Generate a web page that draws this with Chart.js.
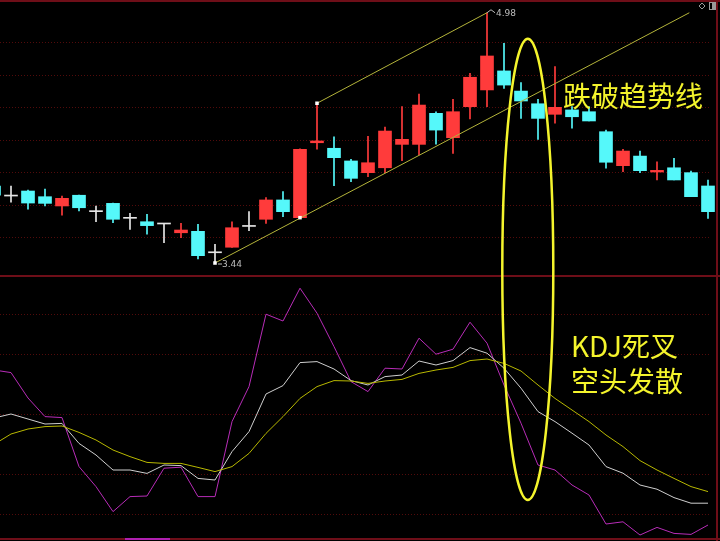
<!DOCTYPE html>
<html>
<head>
<meta charset="utf-8">
<script src="https://cdn.jsdelivr.net/npm/chart.js@4.4.1/dist/chart.umd.min.js"></script>
<style>
  html, body { margin: 0; padding: 0; background: #000; }
  #wrap { position: relative; width: 720px; height: 541px; }
</style>
</head>
<body>
<div id="wrap"><canvas id="kline" width="720" height="541"></canvas></div>
<script>
// K 线数据（第一根只露出半截）
const opens  = [3.914,3.852,3.883,3.848,3.791,3.857,3.756,3.807,3.715,3.694,3.680,3.626,3.635,3.503,3.537,3.665,3.709,3.828,3.719,4.180,4.146,4.068,3.996,4.026,4.170,4.170,4.361,4.211,4.402,4.505,4.622,4.498,4.420,4.355,4.382,4.371,4.248,4.039,4.098,4.000,4.026,3.996,3.914];
const highs  = [3.932,3.914,3.889,3.895,3.852,3.858,3.791,3.809,3.746,3.740,3.680,3.684,3.678,3.555,3.694,3.756,3.842,3.879,4.142,4.423,4.217,4.078,4.220,4.277,4.402,4.480,4.371,4.447,4.607,4.980,4.792,4.550,4.447,4.648,4.402,4.402,4.258,4.140,4.129,4.063,4.084,4.006,3.951];
const lows   = [3.840,3.815,3.772,3.791,3.735,3.760,3.694,3.688,3.647,3.618,3.565,3.596,3.465,3.440,3.536,3.639,3.684,3.725,3.719,4.140,3.916,3.940,3.971,3.996,4.070,4.105,4.172,4.115,4.326,4.402,4.515,4.330,4.201,4.300,4.269,4.314,4.023,4.002,3.996,3.951,3.951,3.848,3.715];
const closes = [3.858,3.852,3.809,3.807,3.838,3.780,3.756,3.709,3.715,3.670,3.680,3.643,3.485,3.503,3.657,3.665,3.828,3.756,4.140,4.191,4.088,3.961,4.057,4.252,4.201,4.412,4.258,4.371,4.583,4.714,4.535,4.437,4.330,4.398,4.340,4.314,4.060,4.129,4.008,4.010,3.951,3.848,3.756];

// KDJ 指标
const kValues = [48,50,47.5,45,45.3,35.3,29.5,22,22,20.3,24.5,24.2,17.8,17,31.2,41.2,60,64.2,75.7,76.2,72.5,66.7,64.5,68.7,69.5,76.5,74.5,76.7,83.2,80.4,72.9,62.9,51.2,46.2,40.4,34.5,23.7,20.4,14.5,12.4,8.2,5.4,5.4];
const dValues = [34.8,40,42.5,43.7,44,40.8,37,32,28.7,25.8,25.3,25.3,23.3,21.2,23.7,30.3,40.3,48.7,57.8,63.7,66.7,66.5,65.3,66.5,67.3,70.3,72,73.3,76.7,77.5,75.3,71.5,64.5,57.8,52,46.2,39.5,33.7,26.7,22,17.8,13.7,11.2];
const jValues = [72,70.7,58,48.7,48.2,23.7,13.7,1.2,8.7,9,22.9,23.4,8.7,8.7,46.2,63.7,99.9,96.5,112.9,100.4,83.7,66.2,61.2,72.9,72.5,87.9,79.9,82.4,95.9,85.4,64.5,45.4,24.5,22,14.5,9.5,-5,-3.9,-10.5,-6.7,-9.7,-10.2,-5.5];

// 网格刻度
const priceLevels = [3.6, 3.8, 4.0, 4.2, 4.4, 4.6, 4.8];
const kdjLevels = [0, 20, 50, 80, 100];

// 趋势线（用 K 线序号和价格表示）
const lowerTrend = [{ x: 12, y: 3.44 }, { x: 39.9, y: 4.98 }];
const upperTrend = [{ x: 18, y: 4.423 }, { x: 28, y: 4.98 }];
const markPoints = [{ x: 12, y: 3.44 }, { x: 17, y: 3.719 }, { x: 18, y: 4.423 }];

const RED = '#ff3b3b';
const CYAN = '#55f8fa';
const WHITE = '#e6e6e6';
const YELLOW = '#f4f42c';

const firstIndex = -1;
const xs = opens.map((_, i) => i + firstIndex);

const candleColor = (i) => {
    if (closes[i] > opens[i]) return RED;
    if (closes[i] < opens[i]) return CYAN;
    return WHITE;
};

const bodyData = xs.map((x, i) => ({ x: x, y: [opens[i], closes[i]] }));
const wickData = xs.map((x, i) => ({ x: x, y: [lows[i], highs[i]] }));
const toLine = (arr) => xs.map((x, i) => ({ x: x, y: arr[i] }));

// 背景网格和边框
const framePlugin = {
    id: 'frame',
    beforeDatasetsDraw(chart) {
        const { ctx, scales } = chart;
        const w = chart.width;
        ctx.save();
        ctx.lineWidth = 1;
        ctx.strokeStyle = 'rgba(150,20,20,0.55)';
        ctx.setLineDash([1, 2]);
        priceLevels.forEach(p => {
            const y = Math.round(scales.y.getPixelForValue(p)) + 0.5;
            ctx.beginPath(); ctx.moveTo(0, y); ctx.lineTo(710, y); ctx.stroke();
        });
        kdjLevels.forEach(v => {
            const y = Math.round(scales.y2.getPixelForValue(v)) + 0.5;
            ctx.beginPath(); ctx.moveTo(0, y); ctx.lineTo(710, y); ctx.stroke();
        });
        ctx.setLineDash([]);
        ctx.strokeStyle = '#6e0e18';
        ctx.lineWidth = 2;
        [1, 276, 539].forEach(y => {
            ctx.beginPath(); ctx.moveTo(0, y); ctx.lineTo(w, y); ctx.stroke();
        });
        ctx.beginPath(); ctx.moveTo(717, 0); ctx.lineTo(717, 541); ctx.stroke();
        // 底部小标签
        ctx.strokeStyle = '#b020b0';
        ctx.beginPath(); ctx.moveTo(125, 539); ctx.lineTo(170, 539); ctx.stroke();
        ctx.restore();
    },
    afterDatasetsDraw(chart) {
        const { ctx, scales } = chart;
        const sx = scales.x, sy = scales.y, sk = scales.y2;
        ctx.save();

        // 最高/最低价标注
        ctx.font = '9px "DejaVu Sans", sans-serif';
        ctx.fillStyle = '#bdbdbd';
        ctx.strokeStyle = '#bdbdbd';
        ctx.lineWidth = 1;
        ctx.textBaseline = 'middle';
        const hx = sx.getPixelForValue(28), hy = sy.getPixelForValue(4.98);
        ctx.beginPath(); ctx.moveTo(hx, hy); ctx.lineTo(hx + 4, hy - 3); ctx.lineTo(hx + 8, hy); ctx.stroke();
        ctx.fillText('4.98', hx + 9, hy + 1);
        const lx = sx.getPixelForValue(12), ly = sy.getPixelForValue(3.44);
        ctx.beginPath(); ctx.moveTo(lx + 3, ly + 1); ctx.lineTo(lx + 7, ly + 1); ctx.stroke();
        ctx.fillText('3.44', lx + 7, ly + 2);

        // 右上角小图标
        ctx.strokeStyle = '#9a9a9a';
        ctx.beginPath();
        ctx.moveTo(702, 3); ctx.lineTo(705, 6); ctx.lineTo(702, 9); ctx.lineTo(699, 6); ctx.closePath();
        ctx.stroke();
        ctx.strokeRect(709.5, 2.5, 6, 7);
        ctx.fillStyle = '#9a9a9a';
        ctx.fillRect(712, 3, 3, 6);

        // 椭圆圈出破位区域
        const cx = sx.getPixelForValue(30.4);
        const rx = sx.getPixelForValue(31.9) - cx;
        const top = sy.getPixelForValue(4.82);
        const bottom = sk.getPixelForValue(7);
        ctx.strokeStyle = YELLOW;
        ctx.lineWidth = 2.5;
        ctx.beginPath();
        ctx.ellipse(cx, (top + bottom) / 2, rx, (bottom - top) / 2, 0, 0, Math.PI * 2);
        ctx.stroke();

        // 文字说明
        ctx.fillStyle = YELLOW;
        ctx.font = '28px "Noto Sans CJK SC", sans-serif';
        ctx.textBaseline = 'middle';
        ctx.textAlign = 'left';
        ctx.fillText('跌破趋势线', 563, 96);
        ctx.fillText('KDJ死叉', 571, 346);
        ctx.fillText('空头发散', 571, 381);
        ctx.restore();
    }
};

new Chart(document.getElementById('kline'), {
    type: 'bar',
    data: {
        datasets: [
            {
                type: 'bar',
                data: bodyData,
                backgroundColor: (c) => candleColor(c.dataIndex),
                barThickness: 13,
                minBarLength: 1,
                grouped: false,
                order: 1
            },
            {
                type: 'bar',
                data: wickData,
                backgroundColor: (c) => candleColor(c.dataIndex),
                barThickness: 1,
                grouped: false,
                order: 2
            },
            {
                type: 'line',
                data: upperTrend,
                borderColor: '#b4b43a',
                borderWidth: 1,
                pointRadius: 0,
                order: 0
            },
            {
                type: 'line',
                data: lowerTrend,
                borderColor: '#b4b43a',
                borderWidth: 1,
                pointRadius: 0,
                order: 0
            },
            {
                type: 'scatter',
                data: markPoints,
                pointStyle: 'rect',
                pointRadius: 2.5,
                backgroundColor: '#ffffff',
                borderWidth: 0,
                order: -1
            },
            {
                type: 'line',
                yAxisID: 'y2',
                data: toLine(dValues),
                borderColor: '#b8b800',
                borderWidth: 1,
                pointRadius: 0,
                tension: 0
            },
            {
                type: 'line',
                yAxisID: 'y2',
                data: toLine(kValues),
                borderColor: '#cfcfcf',
                borderWidth: 1,
                pointRadius: 0,
                tension: 0
            },
            {
                type: 'line',
                yAxisID: 'y2',
                data: toLine(jValues),
                borderColor: '#b82cb8',
                borderWidth: 1,
                pointRadius: 0,
                tension: 0
            }
        ]
    },
    options: {
        responsive: false,
        animation: false,
        devicePixelRatio: 1,
        layout: { padding: 0, autoPadding: false },
        plugins: { legend: { display: false }, tooltip: { enabled: false } },
        scales: {
            x: { type: 'linear', min: -11 / 17, max: 709 / 17, offset: false, display: false },
            y: { type: 'linear', min: 4 - 369 / 162.5, max: 4 + 172 / 162.5, display: false },
            y2: { type: 'linear', position: 'right', min: -13.5, max: 257, display: false }
        }
    },
    plugins: [framePlugin]
});
</script>
</body>
</html>
